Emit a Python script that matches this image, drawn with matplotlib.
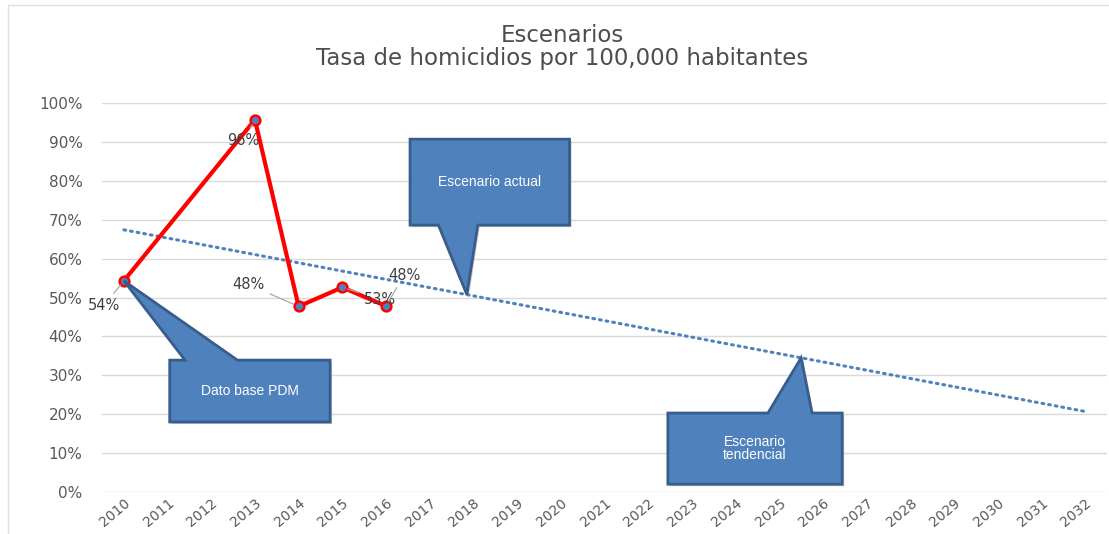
import numpy as np
import matplotlib
matplotlib.use('Agg')
import matplotlib.pyplot as plt
from matplotlib.patches import Polygon, Rectangle
from matplotlib.transforms import offset_copy

# data
years = [str(y) for y in range(2010, 2033)]
obs_years = [2010, 2013, 2014, 2015, 2016]
obs_vals = [0.543, 0.957, 0.477, 0.526, 0.478]
trend_years = [2010, 2032]
trend_vals = [0.674, 0.207]

# label offsets in pixels (dx, dy) per point
lbl_off = [(-20, -25), (-12, -21), (-50, 22), (38, -12), (18, 31)]

BLUE = '#4F81BD'
EDGE = '#385D8A'


def trend_at(x):
    return np.interp(x, trend_years, trend_vals)


def callout(ax, box, base, tip, text):
    x0, x1, y0, y1 = box
    bx0, bx1 = base
    # tail on top or bottom side depending on tip
    if tip[1] > y1:
        pts = [(x0, y0), (x1, y0), (x1, y1), (bx1, y1), tip, (bx0, y1), (x0, y1)]
    else:
        pts = [(x0, y1), (x1, y1), (x1, y0), (bx1, y0), tip, (bx0, y0), (x0, y0)]
    shadow = Polygon(pts, closed=True, facecolor='#9a9a9a', edgecolor='none',
                     alpha=0.5, zorder=5, clip_on=False)
    shadow.set_transform(offset_copy(ax.transData, fig=ax.figure, x=2, y=-2, units='dots'))
    ax.add_patch(shadow)
    ax.add_patch(Polygon(pts, closed=True, facecolor=BLUE, edgecolor=EDGE,
                         lw=2, zorder=6, clip_on=False, joinstyle='miter'))
    ax.text((x0 + x1) / 2, (y0 + y1) / 2, text, ha='center', va='center',
            color='white', fontsize=10, family='Liberation Sans', zorder=7,
            linespacing=0.95)


fig = plt.figure(figsize=(11.09, 5.34), dpi=100)
ax = fig.add_axes([102 / 1109, 1 - 492 / 534, (1107 - 102) / 1109, (492 - 103) / 534])

fig.patches.append(Rectangle((8 / 1109, -0.1), 1.2, 1.09, transform=fig.transFigure,
                             fill=False, edgecolor='#e0e0e0', lw=1))

ax.plot(trend_years, trend_vals, color=BLUE, lw=2.2, linestyle=(0, (0.6, 1.6)),
        dash_capstyle='round', zorder=3)
ax.plot(obs_years, obs_vals, color='red', lw=3, marker='o', markersize=7,
        markerfacecolor=BLUE, markeredgecolor='red', markeredgewidth=1.8, zorder=4)

for x, v, (dx, dy) in zip(obs_years, obs_vals, lbl_off):
    ax.annotate(f'{v:.0%}', (x, v), xytext=(dx, dy), textcoords='offset pixels',
                ha='center', va='center', fontsize=10.5, color='#404040',
                arrowprops=dict(arrowstyle='-', color='#a6a6a6', lw=0.9,
                                shrinkA=2, shrinkB=4), zorder=8)

callout(ax, (2011.05, 2014.72, 0.180, 0.339), (2011.4, 2012.6),
        (obs_years[0], obs_vals[0]), 'Dato base PDM')
callout(ax, (2016.55, 2020.2, 0.686, 0.907), (2017.2, 2018.1),
        (2017.85, trend_at(2017.85)), 'Escenario actual')
callout(ax, (2022.45, 2026.44, 0.02, 0.203), (2024.74, 2025.75),
        (2025.5, trend_at(2025.5)), 'Escenario\ntendencial')

ax.set_xlim(2009.5, 2032.5)
ax.set_ylim(0, 1)
ax.set_xticks(range(2010, 2033))
ax.set_xticklabels(years, rotation=40, ha='right', rotation_mode='anchor',
                   fontsize=10, color='#595959')
ax.set_yticks(np.arange(0, 1.01, 0.1))
ax.set_yticklabels([f'{int(round(t * 100))}%' for t in np.arange(0, 1.01, 0.1)],
                   fontsize=11, color='#595959')
ax.tick_params(length=0)
ax.tick_params(axis='y', pad=14)
ax.tick_params(axis='x', pad=3)
ax.grid(axis='y', color='#d9d9d9', lw=1)
ax.set_axisbelow(True)
for s in ax.spines.values():
    s.set_visible(False)

fig.text(562 / 1109, 1 - 47.5 / 534,
         'Escenarios\nTasa de homicidios por 100,000 habitantes',
         ha='center', va='center', fontsize=16.5, color='#4d4d4d', linespacing=1.0)

fig.savefig('out.png', dpi=100)
